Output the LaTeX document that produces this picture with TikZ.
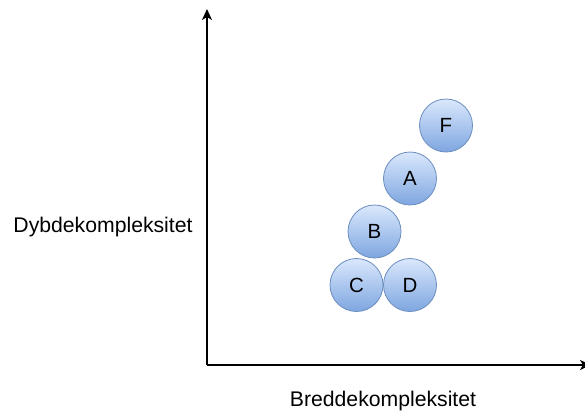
\documentclass[tikz,border=0pt]{standalone}
\usepackage{fontspec}
\setmainfont{Liberation Sans}
\usetikzlibrary{arrows.meta}
\definecolor{cfillTop}{HTML}{DAE8FC}
\definecolor{cfillBot}{HTML}{7EA6E0}
\definecolor{cstroke}{HTML}{6C8EBF}
\tikzset{
  ball/.style={circle, minimum size=53pt, inner sep=0pt, draw=cstroke, line width=0.8pt,
    top color=cfillTop, bottom color=cfillBot, font=\fontsize{20.5}{24}\selectfont, text=black},
  axis/.style={line width=1.5pt, -{Stealth[length=11pt,width=10pt,inset=3pt]}},
  lbl/.style={font=\fontsize{21.2}{25}\selectfont, text=black, inner sep=0pt, anchor=base}
}
\begin{document}
\begin{tikzpicture}[x=1pt,y=-1pt]
\useasboundingbox (0,0) rectangle (585,410);
\coordinate (o) at (207,365);
\coordinate (ytop) at (207,9);
\coordinate (xend) at (591,365);
\draw[axis] (o) -- (ytop);
\draw[axis] (o) -- (xend);
\node[lbl] (ylab) at (103,232) {Dybdekompleksitet};
\node[lbl] (xlab) at (383,406) {Breddekompleksitet};
\node[ball] (F) at (446,125.5) {F};
\node[ball] (A) at (410,178.5) {A};
\node[ball] (B) at (374.5,231.5) {B};
\node[ball] (C) at (356.5,285) {C};
\node[ball] (D) at (410,285) {D};
\end{tikzpicture}
\end{document}
